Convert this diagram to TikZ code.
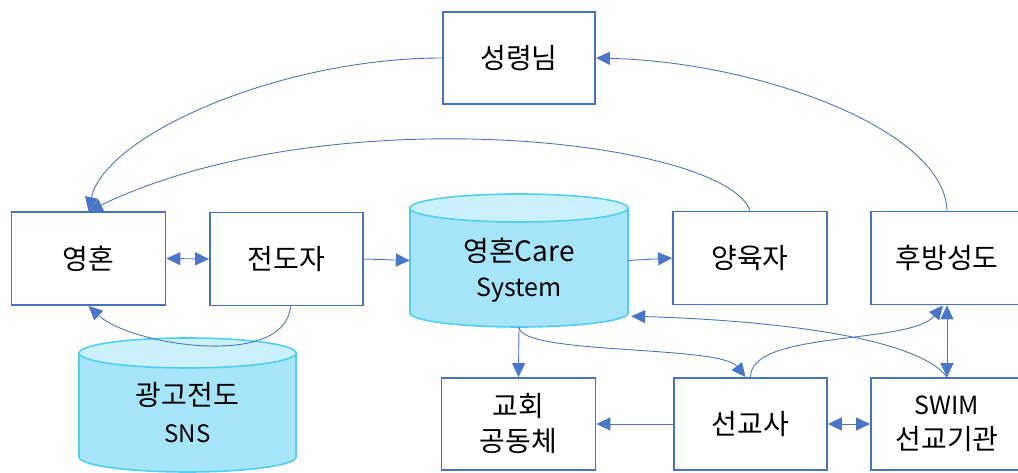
\documentclass[tikz,border=0pt]{standalone}
\usepackage{fontspec}
\setmainfont{Noto Sans CJK KR}
\usetikzlibrary{arrows.meta}
\definecolor{boxblue}{HTML}{4472C4}
\definecolor{linkblue}{HTML}{4A76C8}
\definecolor{cylbody}{HTML}{A6E4FA}
\definecolor{cyltop}{HTML}{CBF1FD}
\definecolor{cylrim}{HTML}{50CEF4}
\tikzset{
  box/.style={draw=boxblue, line width=1.8pt, fill=white, minimum width=#1,
    minimum height=93pt, inner sep=0pt, align=center,
    font=\fontsize{28}{35}\selectfont},
  box/.default=154pt,
  drumtext/.style={align=center, inner sep=0pt, font=\fontsize{28}{35}\selectfont},
  drumrim/.style={draw=cylrim, line width=1.6pt},
  tip/.tip={Triangle[length=14pt,width=13pt]},
  link/.style={draw=linkblue, line width=0.9pt, -tip},
  twoway/.style={draw=linkblue, line width=0.9pt, tip-tip},
}
\begin{document}
\begin{tikzpicture}[x=1pt,y=-1pt]
\useasboundingbox (0,0) rectangle (1018,473);
\clip (0,0) rectangle (1018,473);

% care system drum
\fill[cylbody] (410,208) -- (410,313)
  arc[start angle=180, end angle=360, x radius=109pt, y radius=14pt] -- (628,208) -- cycle;
\draw[drumrim] (410,208) -- (410,313)
  arc[start angle=180, end angle=360, x radius=109pt, y radius=14pt] -- (628,208);
\filldraw[fill=cyltop, drumrim] (519,208) ellipse [x radius=109pt, y radius=14pt];
\node[inner sep=0pt, minimum width=218pt, minimum height=133pt] (care) at (519,260.5) {};
\node[drumtext] (caretxt) at (519,270) {영혼Care\\{\fontsize{25}{34}\selectfont System}};

% SNS drum
\fill[cylbody] (79,353) -- (79,457)
  arc[start angle=180, end angle=360, x radius=108.5pt, y radius=15pt] -- (296,353) -- cycle;
\draw[drumrim] (79,353) -- (79,457)
  arc[start angle=180, end angle=360, x radius=108.5pt, y radius=15pt] -- (296,353);
\filldraw[fill=cyltop, drumrim] (187.5,353) ellipse [x radius=108.5pt, y radius=15pt];
\node[inner sep=0pt, minimum width=217pt, minimum height=134pt] (sns) at (187.5,405) {};
\node[drumtext] (snstxt) at (187.5,413) {광고전도\\[2pt]{\fontsize{24}{30}\selectfont SNS}};

% boxes
\node[box=152pt, minimum height=92pt] (spirit) at (519,58) {성령님};
\node[box] (soul) at (88.5,258.5) {영혼};
\node[box=153pt] (evang) at (286.5,259) {전도자};
\node[box] (nurt) at (750,258) {양육자};
\node[box=152pt] (rear) at (947,258) {후방성도};
\node[box, minimum height=92pt] (church) at (518.5,424) {교회\\공동체};
\node[box=153pt, minimum height=92pt] (missy) at (750.5,424) {선교사};
\node[box=152pt, minimum height=92pt] (swim) at (947,424) {{\fontsize{25}{34}\selectfont SWIM}\\선교기관};

% connectors
\draw[link] (spirit.west) .. controls (280,58) and (105,135) .. (soul.north);
\draw[link] (nurt.north) .. controls (725,140) and (330,95) .. (soul.north);
\draw[link] (rear.north) .. controls (945,130) and (760,62) .. (spirit.east);
\draw[twoway] (soul.east) -- (evang.west);
\draw[link] (evang.east) -- (care.west);
\draw[link] (care.east) -- (nurt.west);
\draw[link] ([xshift=4pt]evang.south) .. controls (285,370) and (130,345) .. (soul.south);
\draw[link] (care.south) -- (church.north);
\draw[link] (care.south) .. controls (520,355) and (720,345) .. ([xshift=-5pt]missy.north);
\draw[link] (missy.north) .. controls (750,330) and (910,345) .. ([xshift=-4pt]rear.south);
\draw[twoway] (swim.north) -- (rear.south);
\draw[link] (swim.north) .. controls (915,335) and (760,320) .. ([shift={(3,-11)}]care.south east);
\draw[link] (missy.west) -- (church.east);
\draw[twoway] (missy.east) -- (swim.west);
\end{tikzpicture}
\end{document}
